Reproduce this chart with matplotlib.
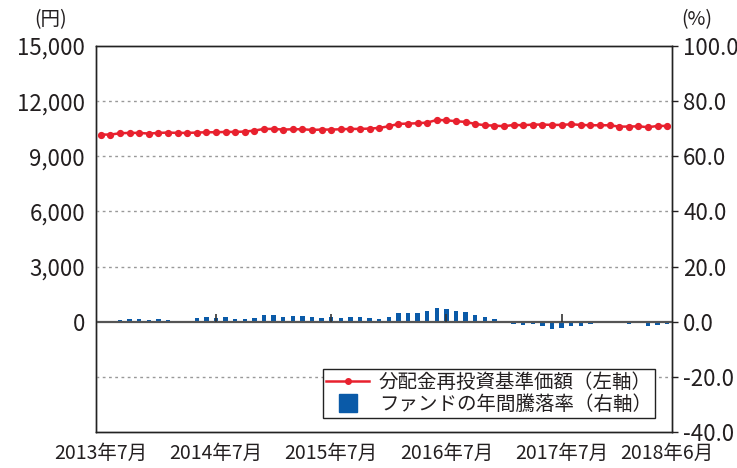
import matplotlib.pyplot as plt
from matplotlib.lines import Line2D
import numpy as np

plt.rcParams['font.family'] = ['Noto Sans CJK JP', 'DejaVu Sans']

# monthly data, 2013/7 - 2018/6
nav = [10181, 10181, 10254, 10272, 10272, 10236, 10272, 10290, 10272, 10272,
       10290, 10308, 10308, 10326, 10326, 10344, 10399, 10489, 10489, 10453,
       10471, 10471, 10435, 10453, 10453, 10471, 10489, 10489, 10507, 10543,
       10634, 10761, 10779, 10797, 10833, 10978, 10960, 10906, 10870, 10761,
       10688, 10670, 10634, 10707, 10688, 10725, 10725, 10707, 10707, 10743,
       10707, 10688, 10688, 10688, 10616, 10616, 10634, 10580, 10652, 10652]
ret = [0.24, 0.24, 0.6, 0.97, 1.0, 0.6, 1.0, 0.6, 0.24, 0.24,
       1.33, 1.7, 1.33, 1.7, 1.0, 1.0, 1.33, 2.4, 2.4, 1.7,
       2.05, 2.05, 1.7, 1.33, 1.7, 1.33, 1.7, 1.7, 1.33, 1.0,
       1.7, 3.1, 3.1, 3.1, 3.86, 4.95, 4.6, 3.86, 3.5, 2.4,
       1.7, 1.0, -0.1, -0.72, -1.1, -0.72, -1.45, -2.5, -2.2, -1.45,
       -1.45, -0.72, -0.36, -0.36, -0.36, -0.72, -0.2, -1.45, -1.1, -0.72]
tick_idx = [0, 12, 24, 36, 48, 59]
tick_labels = ['2013年7月', '2014年7月', '2015年7月', '2016年7月', '2017年7月', '2018年6月']

x = np.arange(len(nav))
red = '#e8212e'
blue = '#0a5aa8'
txt = '#231f20'

fig = plt.figure(figsize=(7.37, 4.68), dpi=100)
ax = fig.add_axes([0.1303, 0.0769, 0.7815, 0.8248])
ax2 = ax.twinx()
ax.set_zorder(ax2.get_zorder() + 1)
ax.patch.set_visible(False)

ax2.bar(x, ret, width=0.45, color=blue)
ax2.set_ylim(-40, 100)
ax2.set_yticks(np.arange(-40, 101, 20))
ax2.set_yticklabels([f'{v:.1f}' for v in np.arange(-40, 101, 20)])

for v in [-3000, 3000, 6000, 9000, 12000]:
    ax.axhline(v, color='#999999', lw=1, ls=(0, (2, 2.5)), zorder=1)
ax.axhline(0, color='#555555', lw=1.6, zorder=2)
ax.vlines(tick_idx[1:-1], 0, 420, color='#333333', lw=1.2, zorder=3)

ax.plot(x, nav, color=red, lw=1.8, marker='o', ms=4.2, zorder=4)
ax.set_ylim(-6000, 15000)
ax.set_yticks([0, 3000, 6000, 9000, 12000, 15000])
ax.set_yticklabels(['0', '3,000', '6,000', '9,000', '12,000', '15,000'])
ax.set_xlim(-0.5, len(nav) - 0.5)
ax.set_xticks(tick_idx)
ax.set_xticklabels(tick_labels)

ax.tick_params(axis='y', length=0, pad=8, labelsize=16, colors=txt)
ax.tick_params(axis='x', length=0, pad=8, labelsize=14, colors=txt)
ax2.tick_params(axis='y', length=4, width=1, pad=4, labelsize=16, colors=txt)
for a in (ax, ax2):
    for s in a.spines.values():
        s.set_color('#222222')
        s.set_linewidth(1)

fig.text(0.068, 0.935, '(円)', fontsize=14, color=txt, ha='center', va='bottom')
fig.text(0.945, 0.935, '(%)', fontsize=14, color=txt, ha='center', va='bottom')

handles = [Line2D([], [], color=red, lw=1.8, marker='o', ms=4),
           Line2D([], [], ls='none', marker='s', ms=13, color=blue)]
leg = ax.legend(handles, ['分配金再投資基準価額（左軸）', 'ファンドの年間騰落率（右軸）'],
                loc='lower right', bbox_to_anchor=(0.97, 0.036), fontsize=14,
                fancybox=False, framealpha=1, edgecolor='#222222',
                borderpad=0.15, labelspacing=0.05, handlelength=2.2,
                handletextpad=0.5, borderaxespad=0)
leg.get_frame().set_linewidth(1)
for t in leg.get_texts():
    t.set_color(txt)

fig.savefig('out.png', dpi=100)
